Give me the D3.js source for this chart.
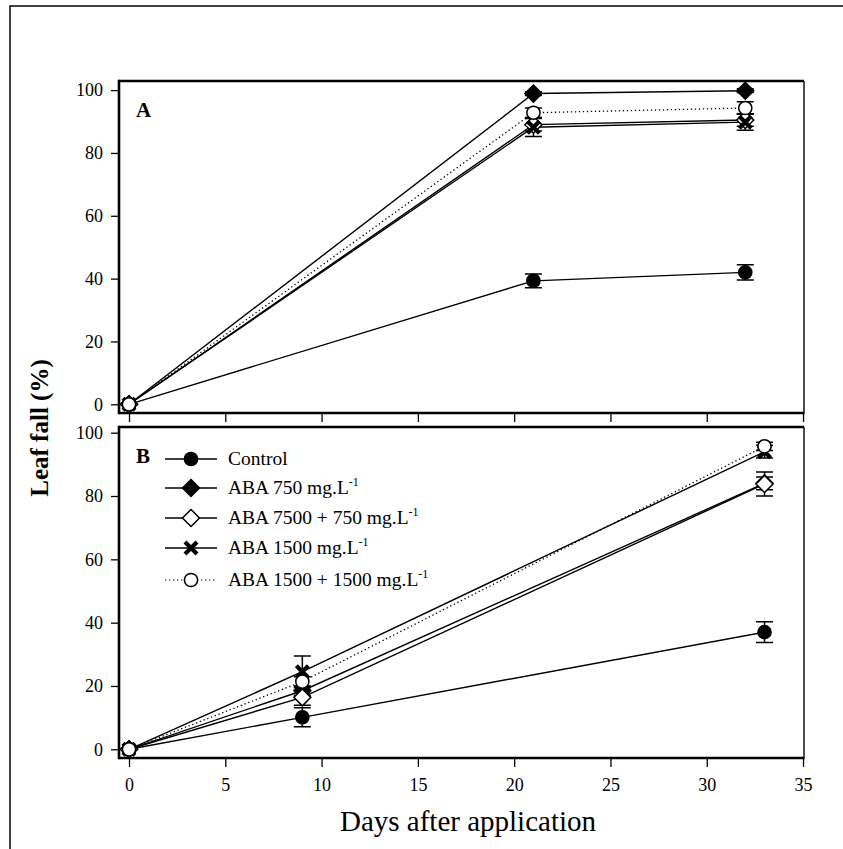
<!DOCTYPE html>
<html><head><meta charset="utf-8">
<script src="https://cdn.jsdelivr.net/npm/d3@7"></script>
<style>body{margin:0;background:#fff}svg{display:block}text{font-family:"Liberation Serif","Times New Roman",serif;fill:#000}</style>
</head><body>
<script>
// ---- data ----
const daysA = [0, 21, 32];
const daysB = [0, 9, 33];
const xTicks = [0, 5, 10, 15, 20, 25, 30, 35];
const yTicks = [0, 20, 40, 60, 80, 100];
const seriesNames = ["Control", "ABA 750 mg.L", "ABA 7500 + 750 mg.L", "ABA 1500 mg.L", "ABA 1500 + 1500 mg.L"];
const seriesSup = ["", "-1", "-1", "-1", "-1"];
const seriesMarkers = ["filledCircle", "filledDiamond", "openDiamond", "cross", "openCircle"];
// panel A values and standard errors
const controlA = [0, 39.3, 42.0],   controlAErr = [0, 2.2, 2.4];
const aba750A = [0, 98.9, 99.8],    aba750AErr = [0, 0.6, 0.6];
const aba7500A = [0, 89.0, 90.5],   aba7500AErr = [0, 2.0, 2.0];
const aba1500A = [0, 88.2, 89.8],   aba1500AErr = [0, 3.0, 2.6];
const aba1500x2A = [0, 92.8, 94.3], aba1500x2AErr = [0, 1.5, 2.0];
// panel B values and standard errors
const controlB = [0, 10.1, 37.0],   controlBErr = [0, 3.0, 3.3];
const aba750B = [0, 18.5, 84.0],    aba750BErr = [0, 1.5, 2.0];
const aba7500B = [0, 16.4, 83.8],   aba7500BErr = [0, 2.5, 3.8];
const aba1500B = [0, 24.5, 94.0],   aba1500BErr = [0, 5.0, 2.0];
const aba1500x2B = [0, 21.4, 95.7], aba1500x2BErr = [0, 1.5, 1.3];

const W = 843, H = 849;
const svg = d3.select("body").append("svg").attr("width", W).attr("height", H);
svg.append("rect").attr("width", W).attr("height", H).attr("fill", "#fff");
// outer frame
svg.append("path").attr("d", `M10,${H} V6 H${W}`).attr("fill", "none").attr("stroke", "#000").attr("stroke-width", 1.5);

const x = d3.scaleLinear().domain([-0.52, 35.05]).range([119, 804]);

function markerPath(type, g, cx, cy) {
  if (type === "filledCircle" || type === "openCircle") {
    g.append("circle").attr("cx", cx).attr("cy", cy).attr("r", 6.6)
      .attr("fill", type === "filledCircle" ? "#000" : "#fff").attr("stroke", "#000").attr("stroke-width", 1.5);
  } else if (type === "filledDiamond" || type === "openDiamond") {
    const s = 8.5;
    g.append("path").attr("d", `M${cx},${cy - s} L${cx + s},${cy} L${cx},${cy + s} L${cx - s},${cy} Z`)
      .attr("fill", type === "filledDiamond" ? "#000" : "#fff").attr("stroke", "#000").attr("stroke-width", 1.5);
  } else if (type === "cross") {
    const s = 6;
    g.append("path").attr("d", `M${cx - s},${cy - s} L${cx + s},${cy + s} M${cx - s},${cy + s} L${cx + s},${cy - s}`)
      .attr("stroke", "#000").attr("stroke-width", 4.2).attr("stroke-linecap", "butt");
  }
}

function panel(opts) {
  const { top, bottom, yDomain, days, values, errs, label, showXLabels } = opts;
  const y = d3.scaleLinear().domain(yDomain).range([bottom, top]);
  const g = svg.append("g");
  // axes
  const ya = g.append("g").attr("transform", `translate(119,0)`)
    .call(d3.axisLeft(y).tickValues(yTicks).tickSize(8).tickPadding(8).tickFormat(d3.format("d")));
  const xa = g.append("g").attr("transform", `translate(0,${bottom})`)
    .call(d3.axisBottom(x).tickValues(xTicks).tickSize(9).tickPadding(11).tickFormat(showXLabels ? d3.format("d") : () => ""));
  [ya, xa].forEach(a => {
    a.select(".domain").remove();
    a.selectAll(".tick line").attr("stroke", "#000").attr("stroke-width", 1.3);
    a.selectAll("text").style("font-family", "Liberation Serif").style("font-size", "18px").attr("fill", "#000");
  });
  // frame
  g.append("path").attr("d", `M119,${top} H804`).attr("stroke", "#000").attr("stroke-width", 2.6);
  g.append("path").attr("d", `M119,${bottom} H804`).attr("stroke", "#000").attr("stroke-width", 2.6);
  g.append("path").attr("d", `M119,${top - 1.3} V${bottom + 1.3}`).attr("stroke", "#000").attr("stroke-width", 2.6);
  g.append("path").attr("d", `M804,${top} V${bottom + 1.3}`).attr("stroke", "#000").attr("stroke-width", 1.4);
  // lines
  const line = d3.line().x((d, i) => x(days[i])).y(d => y(d));
  values.forEach((v, si) => {
    g.append("path").attr("d", line(v)).attr("fill", "none").attr("stroke", "#000")
      .attr("stroke-width", si === 4 ? 1.3 : 1.4)
      .attr("stroke-dasharray", si === 4 ? "1.3,2.7" : null);
  });
  // error bars
  values.forEach((v, si) => {
    v.forEach((val, i) => {
      const e = errs[si][i];
      if (!e) return;
      const cx = x(days[i]);
      g.append("path").attr("d",
        `M${cx},${y(val - e)} V${y(val + e)} M${cx - 8.5},${y(val - e)} H${cx + 8.5} M${cx - 8.5},${y(val + e)} H${cx + 8.5}`)
        .attr("stroke", "#000").attr("stroke-width", 1.5).attr("fill", "none");
    });
  });
  // markers
  values.forEach((v, si) => {
    v.forEach((val, i) => markerPath(seriesMarkers[si], g, x(days[i]), y(val)));
  });
  g.append("text").attr("x", 136).attr("y", top + 36).text(label)
    .style("font-weight", "bold").style("font-size", "21px");
  return { g, y };
}

panel({ top: 81, bottom: 413, yDomain: [-2.77, 102.9], days: daysA,
  values: [controlA, aba750A, aba7500A, aba1500A, aba1500x2A],
  errs: [controlAErr, aba750AErr, aba7500AErr, aba1500AErr, aba1500x2AErr],
  label: "A", showXLabels: false });

panel({ top: 427, bottom: 758, yDomain: [-2.75, 101.8], days: daysB,
  values: [controlB, aba750B, aba7500B, aba1500B, aba1500x2B],
  errs: [controlBErr, aba750BErr, aba7500BErr, aba1500BErr, aba1500x2BErr],
  label: "B", showXLabels: true });

// legend
const legY = [459, 488, 518, 548, 580];
seriesNames.forEach((name, i) => {
  const gy = legY[i];
  svg.append("path").attr("d", `M165,${gy} H217`).attr("stroke", "#000")
    .attr("stroke-width", i === 4 ? 1.2 : 1.4).attr("stroke-dasharray", i === 4 ? "1.3,2.7" : null);
  markerPath(seriesMarkers[i], svg, 191, gy);
  const t = svg.append("text").attr("x", 228).attr("y", gy + 6).style("font-size", "19.5px");
  t.append("tspan").text(name);
  if (seriesSup[i]) t.append("tspan").attr("dy", -8).style("font-size", "12px").text(seriesSup[i]);
});

// axis titles
svg.append("text").attr("x", 468).attr("y", 831).attr("text-anchor", "middle")
  .style("font-size", "29px").text("Days after application");
svg.append("text").attr("transform", "translate(48,428) rotate(-90)").attr("text-anchor", "middle")
  .style("font-size", "25px").style("font-weight", "bold").text("Leaf fall (%)");
</script>
</body></html>
